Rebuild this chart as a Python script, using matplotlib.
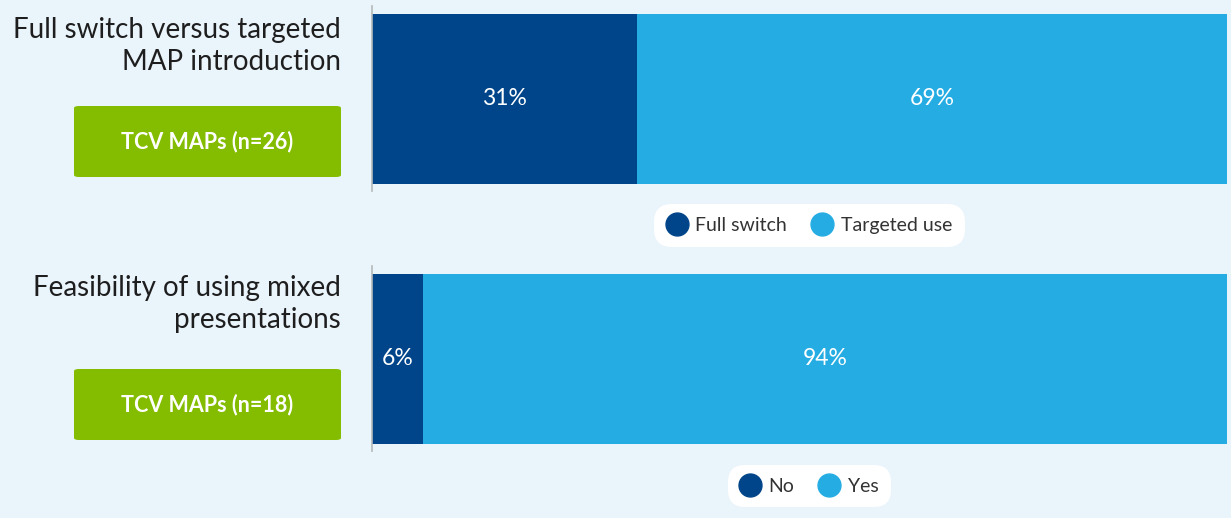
import matplotlib.pyplot as plt
from matplotlib.lines import Line2D
from matplotlib.patches import FancyBboxPatch

# data
titles = ["Full switch versus targeted\nMAP introduction",
          "Feasibility of using mixed\npresentations"]
sample_labels = ["TCV MAPs (n=26)", "TCV MAPs (n=18)"]
legend_labels = [["Full switch", "Targeted use"], ["No", "Yes"]]
first_share = [31, 6]
second_share = [69, 94]

DARK = "#00458a"
LIGHT = "#25ade3"
GREEN = "#84bd00"
BG = "#eaf4fb"
TXT = "#1e1e1e"

plt.rcParams["font.family"] = ["Lato", "DejaVu Sans"]

W, H = 1231, 518
fig = plt.figure(figsize=(W / 100, H / 100), dpi=100, facecolor=BG)

# pixel layout of each panel: (axis top, axis bottom, bar top, bar bottom)
panels = [(6, 191, 15, 185), (266, 451, 274, 444)]
ax_left, ax_right = 372, 1227
title_y = [46, 304]
box_y = [(106, 177), (369, 440)]
legend_y = [225.5, 486]


def fx(x):
    return x / W


def fy(y):
    return 1 - y / H


for i in range(2):
    top, bot, btop, bbot = panels[i]
    ax = fig.add_axes([fx(ax_left), fy(bot), fx(ax_right - ax_left), (bot - top) / H])
    ax.set_facecolor("none")
    h = (bbot - btop) / (bot - top)
    b1 = ax.barh([0], [first_share[i]], height=h, color=DARK)
    b2 = ax.barh([0], [second_share[i]], left=[first_share[i]], height=h, color=LIGHT)
    ax.bar_label(b1, labels=[f"{first_share[i]}%"], label_type="center",
                 color="white", fontsize=16.5)
    ax.bar_label(b2, labels=[f"{second_share[i]}%"], label_type="center",
                 color="white", fontsize=16.5)
    ax.set_xlim(0, 100)
    ax.set_ylim(-0.5, 0.5)
    for s in ["top", "right", "bottom"]:
        ax.spines[s].set_visible(False)
    ax.spines["left"].set_color("#b5b8bb")
    ax.spines["left"].set_linewidth(1.2)
    ax.set_xticks([])
    ax.set_yticks([])

    # left title
    fig.text(fx(341), fy(title_y[i]), titles[i], ha="right", va="center",
             fontsize=20, color=TXT, linespacing=1.3)

    # green sample box
    y0, y1 = box_y[i]
    box = FancyBboxPatch((fx(74), fy(y1)), fx(341 - 74), (y1 - y0) / H,
                         boxstyle="round,pad=0,rounding_size=0.004",
                         transform=fig.transFigure, facecolor=GREEN,
                         edgecolor="none")
    fig.patches.append(box)
    fig.text(fx(207.5), fy((y0 + y1) / 2), sample_labels[i], ha="center",
             va="center", fontsize=15.5, fontweight="bold", color="white")

    # legend
    handles = [Line2D([], [], marker="o", linestyle="none", markersize=16.5,
                      markerfacecolor=c, markeredgecolor=c)
               for c in (DARK, LIGHT)]
    leg = fig.legend(handles, legend_labels[i], loc="center",
                     bbox_to_anchor=(fx(809.5), fy(legend_y[i])), ncol=2,
                     frameon=True, facecolor="white", edgecolor="none",
                     framealpha=1, fontsize=14, handletextpad=0.45,
                     columnspacing=1.3, borderpad=0.5, handlelength=1.0,
                     labelcolor="#333333")
    leg.get_frame().set_boxstyle("round", pad=0.15, rounding_size=0.9)

fig.savefig("out.png", dpi=100, facecolor=BG)
